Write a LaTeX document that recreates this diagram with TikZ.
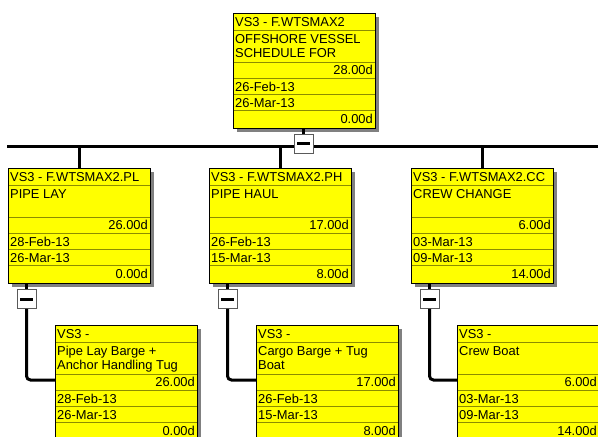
\documentclass[tikz,border=0pt]{standalone}
\usepackage{fontspec}
\setmainfont{Liberation Sans}
\definecolor{boxyellow}{RGB}{255,255,0}
\definecolor{divline}{RGB}{140,140,0}
\definecolor{shadowgray}{RGB}{128,128,128}
\definecolor{minusgray}{RGB}{90,90,90}
\tikzset{
  wbsbox/.style={draw=black, line width=0.9pt, fill=boxyellow, minimum width=142pt, minimum height=115pt, inner sep=0pt, outer sep=0pt, anchor=north west},
  wbstxt/.style={inner sep=0pt, font=\fontsize{12.9}{14}\selectfont},
  divider/.style={draw=divline, line width=0.7pt},
  conn/.style={draw=black, line width=3pt},
  minusbox/.style={draw=minusgray, fill=white, line width=0.8pt, minimum size=19pt, inner sep=0pt},
}
\newcommand\wbsnode[8]{%
  \fill[shadowgray] (#2+4,#3+4) rectangle ++(142,115);
  \node[wbsbox] (#1) at (#2,#3) {};
  \foreach \dy in {17,49,65,81,97} \draw[divider] (#2+0.5,#3+\dy) -- ++(141,0);
  \node[wbstxt, anchor=base west] (#1-h) at (#2+2,#3+13) {#4};
  \node[wbstxt, anchor=base west] (#1-t) at (#2+2,#3+30) {\begin{tabular}[t]{@{}l@{}}#5\end{tabular}};
  \node[wbstxt, anchor=base east] (#1-d) at (#2+140,#3+61) {#6};
  \node[wbstxt, anchor=base west] (#1-s) at (#2+2,#3+78) {#7};
  \node[wbstxt, anchor=base west] (#1-f) at (#2+2,#3+94) {#8};
}
\newcommand\wbsfloat[4]{%
  \node[wbstxt, anchor=base east] (#1-fl) at (#2+140,#3+110) {#4};
}
\newcommand\minusmark[1]{%
  \fill[black] ([xshift=-6.5pt,yshift=-1.5pt]#1.center) rectangle ([xshift=6.5pt,yshift=1.5pt]#1.center);
}
\begin{document}
\begin{tikzpicture}[x=1pt,y=-1pt]
\useasboundingbox (0,0) rectangle (598,437);
\clip (0,0) rectangle (598,437);

% top
\wbsnode{top}{233}{13}{VS3 - F.WTSMAX2}{OFFSHORE VESSEL\\SCHEDULE FOR}{28.00d}{26-Feb-13}{26-Mar-13}
\wbsfloat{top}{233}{13}{0.00d}

% level 2
\wbsnode{pl}{8}{168}{VS3 - F.WTSMAX2.PL}{PIPE LAY}{26.00d}{28-Feb-13}{26-Mar-13}
\wbsfloat{pl}{8}{168}{0.00d}
\wbsnode{ph}{209}{168}{VS3 - F.WTSMAX2.PH}{PIPE HAUL}{17.00d}{26-Feb-13}{15-Mar-13}
\wbsfloat{ph}{209}{168}{8.00d}
\wbsnode{cc}{411}{168}{VS3 - F.WTSMAX2.CC}{CREW CHANGE}{6.00d}{03-Mar-13}{09-Mar-13}
\wbsfloat{cc}{411}{168}{14.00d}

% level 3
\wbsnode{c1}{55}{325}{VS3 -}{Pipe Lay Barge +\\Anchor Handling Tug}{26.00d}{28-Feb-13}{26-Mar-13}
\wbsfloat{c1}{55}{325}{0.00d}
\wbsnode{c2}{256}{325}{VS3 -}{Cargo Barge + Tug\\Boat}{17.00d}{26-Feb-13}{15-Mar-13}
\wbsfloat{c2}{256}{325}{8.00d}
\wbsnode{c3}{457}{325}{VS3 -}{Crew Boat}{6.00d}{03-Mar-13}{09-Mar-13}
\wbsfloat{c3}{457}{325}{14.00d}

% bar and connectors
\coordinate (barL) at (7,146);
\coordinate (barR) at (600,146);
\draw[conn] (barL) -- (barR);
\draw[conn] (pl.north |- barL) -- (pl.north);
\draw[conn] (ph.north |- barL) -- (ph.north);
\draw[conn] (cc.north |- barL) -- (cc.north);

\node[minusbox] (mt) at (303.5,143.5) {};
\minusmark{mt}
\draw[conn, line width=2.5pt] (mt.north |- top.south) -- (mt.north);

\node[minusbox] (m1) at (26.5,299) {};
\node[minusbox] (m2) at (227.5,299) {};
\node[minusbox] (m3) at (429.5,299) {};
\minusmark{m1}
\minusmark{m2}
\minusmark{m3}
\draw[conn, line width=2.5pt] (m1.north |- pl.south) -- (m1.north);
\draw[conn, line width=2.5pt] (m2.north |- ph.south) -- (m2.north);
\draw[conn, line width=2.5pt] (m3.north |- cc.south) -- (m3.north);
\draw[conn, rounded corners=4pt] (m1.south) |- ([yshift=-55pt]c1.north west);
\draw[conn, rounded corners=4pt] (m2.south) |- ([yshift=-55pt]c2.north west);
\draw[conn, rounded corners=4pt] (m3.south) |- ([yshift=-55pt]c3.north west);
\end{tikzpicture}
\end{document}
